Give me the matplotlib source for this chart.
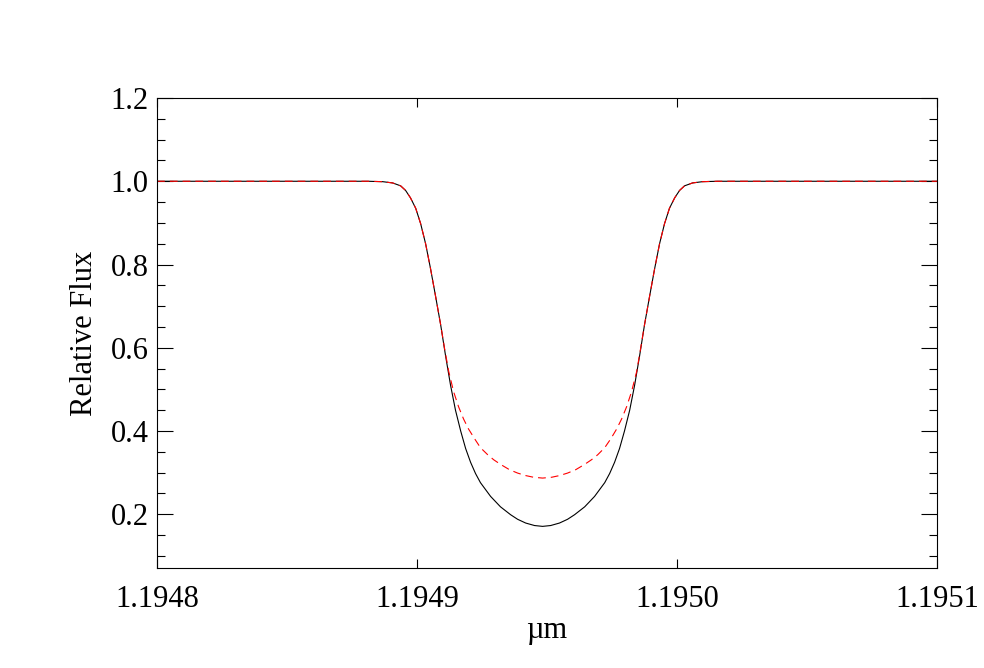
import matplotlib
matplotlib.use("Agg")
import matplotlib.pyplot as plt
from matplotlib.ticker import MultipleLocator, FormatStrFormatter, NullLocator

# Values
wave_black = [1.1948000, 1.1948810, 1.1948868, 1.1948906, 1.1948937, 1.1948956,
              1.1948975, 1.1948995, 1.1949014, 1.1949033, 1.1949052, 1.1949071,
              1.1949091, 1.1949110, 1.1949129, 1.1949148, 1.1949168, 1.1949187,
              1.1949206, 1.1949225, 1.1949244, 1.1949283, 1.1949321, 1.1949360,
              1.1949387, 1.1949418, 1.1949452, 1.1949483,
              1.1949514, 1.1949548, 1.1949579, 1.1949606, 1.1949645, 1.1949683,
              1.1949722, 1.1949741, 1.1949760, 1.1949779, 1.1949798, 1.1949818,
              1.1949837, 1.1949856, 1.1949875, 1.1949895, 1.1949914, 1.1949933,
              1.1949952, 1.1949971, 1.1949991, 1.1950010, 1.1950029, 1.1950060,
              1.1950098, 1.1950156, 1.1951000]
flux_black = [1.000, 1.000, 0.999, 0.996, 0.989, 0.978,
              0.960, 0.935, 0.898, 0.850, 0.790, 0.725,
              0.655, 0.580, 0.510, 0.450, 0.400, 0.358,
              0.325, 0.298, 0.276, 0.243, 0.218, 0.199,
              0.188, 0.179, 0.173, 0.171,
              0.173, 0.179, 0.188, 0.199, 0.218, 0.243,
              0.276, 0.298, 0.325, 0.358, 0.400, 0.450,
              0.510, 0.580, 0.655, 0.725, 0.790, 0.850,
              0.898, 0.935, 0.960, 0.978, 0.989, 0.996,
              0.999, 1.000, 1.000]

wave_red = [1.1948000, 1.1948810, 1.1948868, 1.1948906, 1.1948937, 1.1948956,
            1.1948975, 1.1948995, 1.1949014, 1.1949033, 1.1949052, 1.1949071,
            1.1949091, 1.1949106, 1.1949122, 1.1949141, 1.1949160, 1.1949179,
            1.1949198, 1.1949222, 1.1949244, 1.1949272, 1.1949295, 1.1949321,
            1.1949356, 1.1949387, 1.1949418, 1.1949448, 1.1949483,
            1.1949518, 1.1949548, 1.1949579, 1.1949610, 1.1949645, 1.1949671,
            1.1949695, 1.1949722, 1.1949745, 1.1949768, 1.1949787, 1.1949806,
            1.1949825, 1.1949845, 1.1949860, 1.1949875, 1.1949895, 1.1949914,
            1.1949933, 1.1949952, 1.1949971, 1.1949991, 1.1950010, 1.1950029,
            1.1950060, 1.1950098, 1.1950156, 1.1951000]
flux_red = [1.000, 1.000, 0.999, 0.996, 0.989, 0.978,
            0.960, 0.935, 0.898, 0.850, 0.790, 0.725,
            0.655, 0.598, 0.543, 0.494, 0.458, 0.429,
            0.405, 0.381, 0.360, 0.343, 0.331, 0.320,
            0.307, 0.299, 0.293, 0.289, 0.287,
            0.289, 0.293, 0.299, 0.307, 0.320, 0.331,
            0.343, 0.360, 0.381, 0.405, 0.429, 0.458,
            0.494, 0.543, 0.598, 0.655, 0.725, 0.790,
            0.850, 0.898, 0.935, 0.960, 0.978, 0.989,
            0.996, 0.999, 1.000, 1.000]

xticks = [1.1948, 1.1949, 1.1950, 1.1951]
xlabel = "\u00b5m"
ylabel = "Relative Flux"

plt.rcParams['font.family'] = ['Liberation Serif', 'DejaVu Serif']

fig = plt.figure(figsize=(9.84, 6.68), dpi=100)
ax = fig.add_axes([0.1596, 0.1497, 0.9522 - 0.1596, 0.8533 - 0.1497])

ax.plot(wave_black, flux_black, color='black', lw=0.8)
ax.plot(wave_red, flux_red, color='red', lw=0.8, dashes=(7, 4.5))

ax.set_xlim(1.1948, 1.1951)
ax.set_ylim(0.071, 1.2)
ax.set_xticks(xticks)
ax.xaxis.set_major_formatter(FormatStrFormatter('%.4f'))
ax.xaxis.set_minor_locator(NullLocator())
ax.yaxis.set_major_locator(MultipleLocator(0.2))
ax.yaxis.set_minor_locator(MultipleLocator(0.05))
ax.yaxis.set_major_formatter(FormatStrFormatter('%.1f'))

ax.tick_params(axis='both', which='both', direction='in', top=True, right=True,
               labelsize=22, width=0.8)
ax.tick_params(axis='x', which='major', length=6.5, pad=12)
ax.tick_params(axis='y', which='major', length=11.5, pad=6)
ax.tick_params(axis='y', which='minor', length=5.8)
for s in ax.spines.values():
    s.set_linewidth(0.8)

ax.set_xlabel(xlabel, fontsize=22, labelpad=2)
ax.set_ylabel(ylabel, fontsize=22, labelpad=8)

fig.savefig("out.png", dpi=100)
